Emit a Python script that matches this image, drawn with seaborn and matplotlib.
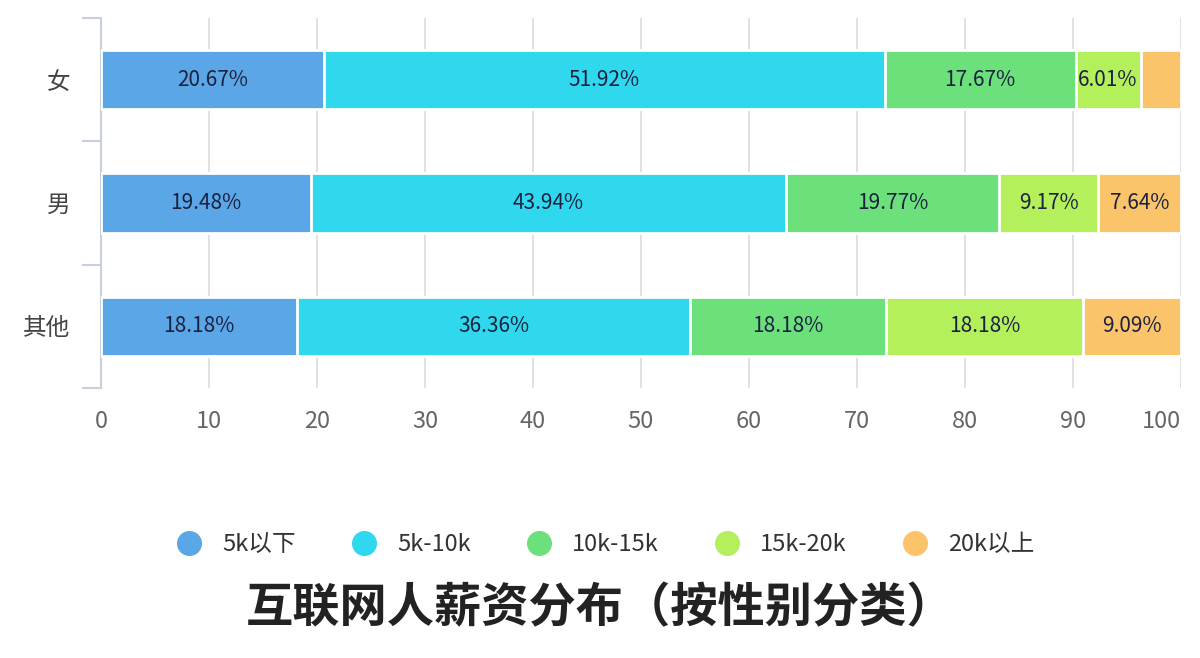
import numpy as np
import seaborn as sns
import matplotlib.pyplot as plt
from matplotlib.lines import Line2D
from matplotlib.ticker import FixedLocator

groups = ['女', '男', '其他']
levels = ['5k以下', '5k-10k', '10k-15k', '15k-20k', '20k以上']
pct_5k_below = [20.67, 19.48, 18.18]
pct_5k_10k = [51.92, 43.94, 36.36]
pct_10k_15k = [17.67, 19.77, 18.18]
pct_15k_20k = [6.01, 9.17, 18.18]
pct_20k_above = [3.73, 7.64, 9.09]
colors = ['#5aa6e6', '#2fd8ec', '#6ce07b', '#b4f05b', '#fcc46a']

series = [pct_5k_below, pct_5k_10k, pct_10k_15k, pct_15k_20k, pct_20k_above]

sns.set_style('white')
plt.rcParams['font.family'] = ['Noto Sans CJK SC', 'DejaVu Sans']

fig = plt.figure(figsize=(12, 6.58), dpi=100)
ax = fig.add_axes([0.0842, 0.4103, 0.8998, 0.5623])

cum = np.cumsum(np.array(series), axis=0)
# draw cumulative totals widest first so each segment sits on top of the next
for i in range(len(levels) - 1, -1, -1):
    sns.barplot(x=cum[i], y=groups, color=colors[i], orient='h', width=0.48,
                saturation=1, edgecolor='white', linewidth=2, ax=ax, zorder=3)

for i, vals in enumerate(series):
    for j, v in enumerate(vals):
        if v < 5:
            continue
        ax.text(cum[i][j] - v / 2, j, f'{v:.2f}%', ha='center', va='center',
                fontsize=15, color='#1c2140', zorder=5)

ax.set_xlim(0, 100)
ax.set_ylim(2.5, -0.5)
ax.set_xticks(range(0, 101, 10))
ax.xaxis.grid(True, color='#dcdcdc', linewidth=1.2, zorder=0)
ax.set_axisbelow(True)
ax.set_xlabel('')
ax.set_ylabel('')

for s in ['top', 'right', 'bottom']:
    ax.spines[s].set_visible(False)
ax.spines['left'].set_color('#c8d0dc')
ax.spines['left'].set_linewidth(1.5)

ax.tick_params(axis='x', length=0, labelsize=17, labelcolor='#666666', pad=16)
ax.get_xticklabels()[-1].set_ha('right')
ax.tick_params(axis='y', which='major', left=False, length=0, labelsize=17,
               labelcolor='#444444', pad=22)
ax.yaxis.set_minor_locator(FixedLocator([-0.5, 0.5, 1.5, 2.5]))
ax.tick_params(axis='y', which='minor', left=True, length=14, width=1.5, color='#c8d0dc')

handles = [Line2D([0], [0], marker='o', linestyle='', markersize=17,
                  markerfacecolor=c, markeredgecolor=c) for c in colors]
fig.legend(handles, levels, loc='center', bbox_to_anchor=(0.5, 0.172), ncol=5,
           frameon=False, fontsize=17, columnspacing=1.9, handletextpad=0.4,
           labelcolor='#333333')

fig.text(0.5, 0.075, '互联网人薪资分布（按性别分类）', ha='center', va='center',
         fontsize=34, fontweight='bold', color='#222222')

fig.savefig('out.png', dpi=100, facecolor='white')
